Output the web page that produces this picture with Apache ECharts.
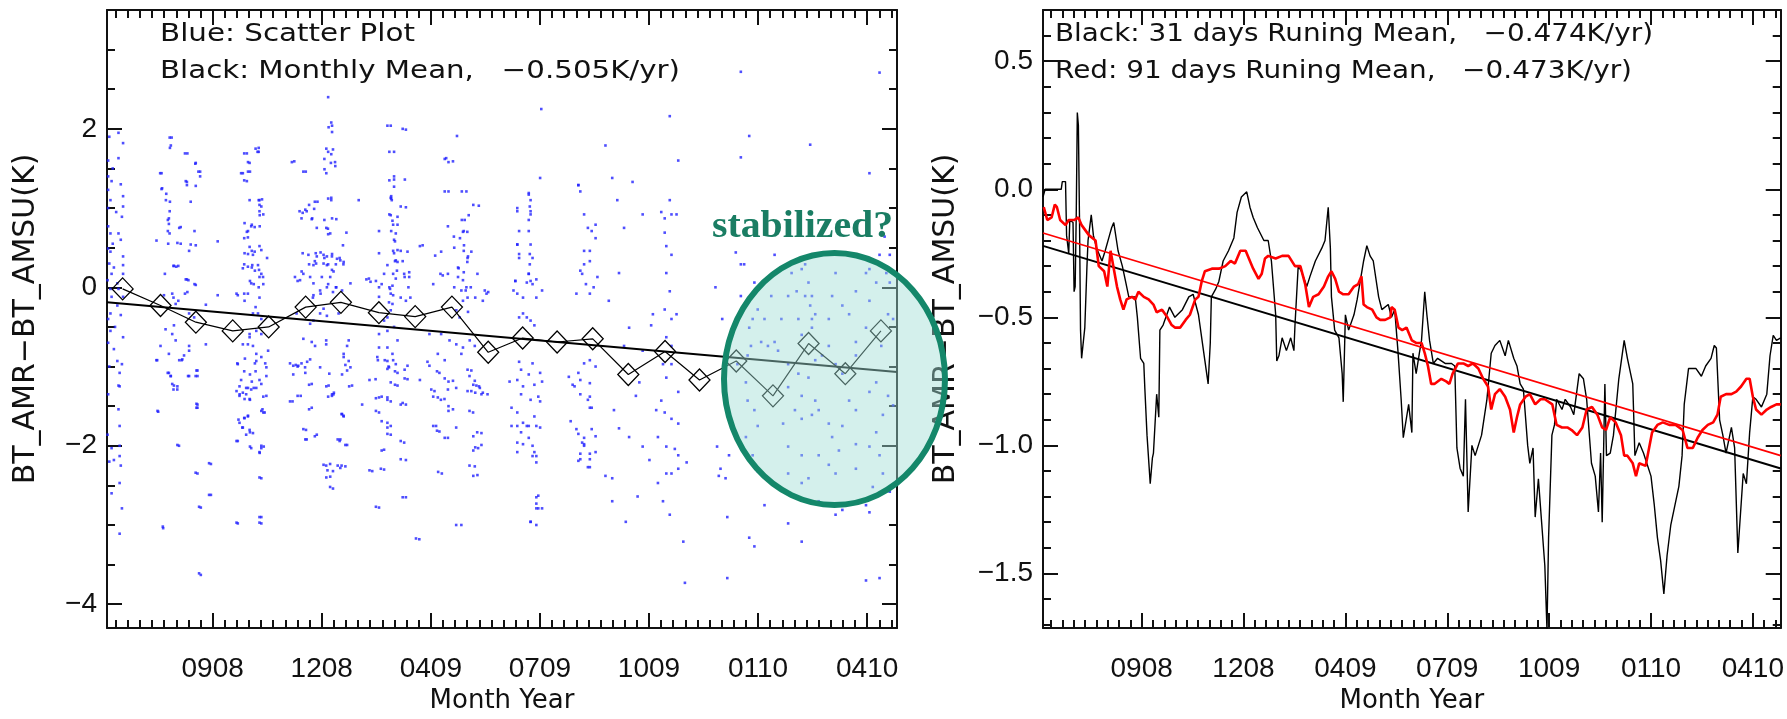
<!DOCTYPE html>
<html><head><meta charset="utf-8">
<script src="https://cdn.jsdelivr.net/npm/echarts@6.0.0/dist/echarts.min.js"></script>
<style>html,body{margin:0;padding:0;background:#fff}#chart{width:1787px;height:719px}</style>
</head><body><div id="chart"></div>
<script>
// ---------------- data ----------------
const xTickLabels = ['0908','1208','0409','0709','1009','0110','0410'];
const xTickDays = [92,187,282,377,472,567,662];
const leftYTicks = [-4,-2,0,2];
const rightYTicks = [-1.5,-1,-0.5,0,0.5];

const monthlyMean = [[13.6,-0.02],[46.6,-0.23],[77.4,-0.44],[109.5,-0.55],[140.8,-0.50],[173,-0.25],[203.7,-0.19],[236.8,-0.32],[268.4,-0.37],[300.4,-0.25],[332,-0.82],[362,-0.64],[392,-0.69],[423,-0.65],[454,-1.10],[486,-0.81],[516,-1.17],[548,-0.93],[580,-1.37],[611,-0.71],[643,-1.09],[674,-0.55]];
const monthlyFit = [[0,-0.19],[688,-1.07]];

const scatterPts = [
[10,1.95],[14,1.82],[10,1.63],[1,1.40],[4,1.34],[1,1.23],[3,1.10],[14,1.15],[14,1.02],[13,0.89],[1,0.77],[3,0.68],[10,0.68],[1,0.49],[3,0.45],[14,0.39],[14,0.28],[4,0.17],[14,0.17],[0.5,0.09],[3,-0.02],[10,-0.02],[4,-0.12],[14,-0.12],[9,-0.23],[3,-0.33],[1,-0.40],[7,-0.50],[3,-0.55],[14,-0.63],[6,-0.78],[9,-0.93],[13,-0.97],[11,-1.08],[10,-1.24],[1,-1.35],[10,-1.54],[11,-1.75],[0.5,-1.86],[4,-2.03],[6,-2.18],[11,-2.13],[11,-2.47],[13,-2.79],[11,-3.11],[2,-2.2],[4,-2.6],[11,-1.25],[11,-2.0],[12,-2.25],[1,1.6],[1,1.0],[2,0.3],[1,-0.7],[2,-1.0],[2,1.9],[5,1.5],[12,1.3],[8,0.95],[5,0.55],[12,0.6],[6,0.25],[9,0.05],[12,-0.35],
[56.3,1.89],[54.8,1.76],[70,1.69],[77.3,1.57],[47.5,1.44],[81.1,1.46],[81.1,1.40],[68.6,1.34],[77.3,1.28],[47.5,1.24],[51.6,1.18],[54.8,1.08],[53.9,0.87],[53.9,0.80],[64.2,0.76],[54.5,0.68],[43.1,0.59],[53.3,0.55],[64.2,0.55],[71.5,0.46],[77.3,0.53],[58.3,0.27],[62.1,0.27],[50.4,0.17],[68.6,0.10],[70.9,0.09],[77.3,0.03],[56.8,-0.08],[70,-0.06],[62.1,-0.17],[59.8,-0.21],[86.1,-0.22],[71.5,-0.33],[58.3,-0.48],[51,-0.53],[75.9,-0.38],[56.8,-0.59],[46.6,-0.74],[59.8,-0.67],[71.5,-0.74],[71.5,-0.80],[67.1,-0.86],[65,-0.92],[43.7,-0.92],[53.9,-0.84],[53.9,-1.08],[55.4,-1.12],[58.3,-1.24],[56.8,-1.22],[61.2,-1.29],[71.5,-1.12],[78.8,-1.05],[78.8,-1.12],[44.6,-1.57],[78.8,-1.48],[78.8,-1.52],[62.7,-2.00],[90.5,-2.23],[78.8,-2.35],[90.5,-2.62],[81.7,-2.78],[48.9,-3.04],[81.7,-3.63],[86.1,-0.72],
[96.4,0.58],[121.8,1.69],[132.1,1.76],[132.1,1.71],[124.2,1.57],[118.3,1.44],[121.8,1.34],[124.2,1.10],[132.1,1.10],[134.4,1.02],[135,1.11],[133,0.91],[119.8,0.81],[121.8,0.70],[125.6,0.77],[128.6,0.76],[133,0.77],[122.7,0.63],[119.8,0.43],[124.2,0.51],[128.6,0.45],[127.1,0.41],[134.4,0.47],[118.3,0.24],[122.7,0.26],[126.5,0.28],[131.5,0.28],[132.4,0.22],[134.4,0.17],[135.9,0.13],[125.6,0.05],[132.1,0.00],[122.7,-0.08],[113.9,-0.10],[119.8,-0.17],[127.1,-0.33],[131.5,-0.33],[134.4,-0.40],[124.2,-0.59],[124.2,-0.63],[130,-0.55],[134.4,-0.59],[122.7,-0.72],[118.3,-0.72],[127.1,-0.74],[130,-0.84],[130,-0.93],[134.4,-0.88],[140.3,-0.80],[138.8,-1.01],[138.8,-1.12],[134.4,-1.22],[130,-1.27],[125.6,-1.29],[121.2,-1.27],[118.3,-1.33],[115.4,-1.25],[113.9,-0.97],[115.4,-1.37],[119.8,-1.41],[124.2,-1.41],[121.2,-1.35],[138.8,-1.37],[134.4,-1.56],[137.3,-1.58],[122.7,-1.63],[119.8,-1.65],[115.4,-1.71],[118.3,-1.77],[124.2,-1.80],[121.2,-1.86],[127.1,-1.84],[113.9,-1.94],[134.4,-2.03],[133,-2.09],[136.5,-2.01],[134.4,-2.41],[125.6,-2.03],[113.9,-2.98],[134.4,-2.90],[134.4,-2.98],[96.4,-0.10],
[163.1,1.59],[173.1,1.46],[189.4,1.49],[193,2.02],[195.3,2.08],[196.8,1.74],[195.3,1.68],[195,1.57],[198.8,1.53],[195.3,1.13],[195.3,1.10],[183.3,1.08],[180.4,0.99],[170.4,0.94],[173.9,0.96],[178.3,0.86],[199.7,0.86],[192.4,0.74],[194.4,0.68],[208.5,0.69],[205.5,0.53],[170.4,0.43],[175.4,0.41],[181.8,0.43],[182.7,0.39],[188.6,0.41],[191.5,0.39],[195.9,0.39],[200.3,0.36],[203.2,0.34],[206.1,0.32],[179.8,0.28],[182.1,0.30],[188.6,0.30],[191.5,0.28],[195.9,0.22],[197.3,0.20],[169.5,0.20],[163.7,0.13],[168.1,0.09],[176.9,0.13],[187.1,0.13],[194.4,0.13],[212,0.05],[179.8,0.05],[185.6,-0.04],[191.5,0.00],[196.8,-0.06],[199.7,0.00],[204.7,-0.04],[179.8,-0.10],[188.6,-0.27],[165.1,-0.33],[185.6,-0.33],[191.5,-0.36],[201.7,-0.33],[179.8,-0.42],[176.9,-0.46],[171,-0.65],[178.3,-0.69],[181.2,-0.74],[190.9,-0.67],[190.9,-0.72],[210.5,-0.67],[209.1,-0.74],[206.1,-0.84],[206.1,-0.88],[162.2,-0.99],[166.6,-0.99],[172.5,-1.01],[176.9,-0.91],[185.6,-1.01],[210.5,-0.93],[212,-1.01],[209.1,-1.05],[162.2,-1.10],[178.3,-1.22],[193,-1.24],[204.7,-1.10],[213.4,-1.24],[195.9,-1.37],[197.3,-1.35],[161.6,-1.44],[168.7,-1.37],[178.3,-1.52],[204.7,-1.60],[206.1,-1.63],[222.2,-1.48],[173.3,-1.80],[173.9,-1.92],[182.7,-1.86],[203.2,-1.92],[209.1,-1.99],[190.9,-2.25],[194.4,-2.39],[196.8,-2.54],[196.8,-2.32],[203.2,-2.28],[207.6,-2.26],
[247.1,2.04],[260.3,1.99],[250,1.71],[250,1.40],[250,1.36],[250,1.27],[259.4,1.36],[247.1,1.13],[248,1.10],[260.3,1.01],[253,0.89],[247.1,0.91],[236.9,0.71],[248.6,0.84],[253,0.79],[251.5,0.68],[250,0.60],[261.7,0.45],[274.9,0.53],[236.9,0.43],[250,0.43],[253,0.47],[244.2,0.28],[251.5,0.34],[253,0.32],[241.3,0.17],[258.8,0.17],[263.2,0.19],[228.1,0.11],[251.5,0.11],[263.2,0.13],[236.9,0.00],[246.5,-0.02],[248.6,0.02],[236.9,-0.12],[247.1,-0.08],[245.6,-0.19],[248.6,-0.21],[260.3,-0.17],[247.1,-0.29],[241.3,-0.42],[244.2,-0.38],[236.9,-0.59],[244.2,-0.55],[250,-0.50],[253,-0.67],[236.9,-0.76],[244.2,-0.76],[248.6,-0.84],[235.4,-0.88],[244.2,-0.93],[251.5,-0.97],[245.6,-1.01],[244.2,-1.03],[253,-1.08],[261.7,-0.99],[233.9,-1.16],[261.7,-1.16],[247.1,-1.20],[253,-1.24],[236.9,-1.39],[244.2,-1.39],[247.1,-1.44],[260.3,-1.48],[236.9,-1.58],[244.2,-1.71],[247.1,-1.75],[247.1,-1.86],[241.3,-2.05],[258.8,-1.96],[260.3,-2.18],[231,-2.32],[241.3,-2.30],[236.9,-2.78],[260.3,-2.65],[272,-3.18],[229.5,0.07],
[304.8,1.91],[295.4,1.63],[301.3,1.59],[297.4,1.21],[313,1.21],[323.8,1.03],[311.5,0.85],[315,0.91],[296.9,0.77],[302.1,0.64],[310,0.70],[313.8,0.70],[310.9,0.53],[317.3,0.45],[291,0.45],[314.4,0.39],[296.9,0.17],[306.2,0.24],[290.4,0.17],[313.8,0.32],[310,0.09],[313,0.00],[316.8,0.00],[322.6,0.17],[308.6,-0.04],[330.5,-0.08],[310,-0.17],[307.1,-0.38],[304.2,-0.29],[314.4,-0.31],[280.8,-0.59],[291,-0.59],[298.3,-0.67],[304.2,-0.72],[310,-0.76],[315.9,-0.67],[320.3,-0.74],[308.6,-0.84],[280.8,-0.99],[288.1,-0.84],[317.3,-1.05],[320.3,-1.18],[321.7,-1.24],[324.7,-1.27],[317.3,-1.31],[326.1,-1.35],[285.2,-1.31],[289.5,-1.08],[301.3,-1.18],[296.9,-1.29],[288.1,-1.39],[293.9,-1.41],[301.3,-1.54],[318.8,-1.58],[286.6,-1.75],[289.5,-1.82],[296.9,-1.90],[326.1,-1.84],[323.2,-2.03],[326.1,-1.99],[320.3,-2.26],[322.6,-2.37],[291.6,-2.35],[308.6,-3.00],[331.4,-1.35],[332,-0.06],
[357.3,0.96],[358.9,0.71],[367.3,1.17],[368.2,1.02],[368.9,0.96],[367.3,0.85],[368.2,0.42],[368.2,0.29],[367.3,0.17],[365.6,0.06],[370.6,0.04],[373.9,0.10],[357.3,0.54],[358.9,0.42],[355.6,0.08],[354,-0.04],[358.9,-0.38],[362.3,-0.33],[365.6,-0.38],[368.9,-0.42],[372.2,-0.48],[378.2,2.25],[377.2,1.38],[410.5,1.29],[415.5,0.46],[420.5,0.33],[425.5,0.79],[413.8,0.17],[427.1,0.13],[420.5,-0.08],[408.8,-0.08],
[357.3,-1.17],[350.6,-1.19],[362.3,-1.25],[372.2,-1.23],[375.6,-1.38],[377.2,-1.44],[352.3,-1.52],[357.3,-1.58],[362.3,-1.71],[357.3,-1.75],[365.6,-1.75],[373.9,-1.75],[377.2,-1.77],[367.3,-1.90],[362.3,-1.98],[357.3,-2.08],[370.6,-2.13],[373.9,-2.13],[373.9,-2.21],[373.9,-2.65],[373.9,-2.73],[375.6,-2.79],[378.9,-2.79],[368.9,-2.96],[373.9,-3.00],[402.2,-1.13],[403.8,-1.69],[407.2,-1.25],[408.8,-1.79],[410.5,-1.85],[413.8,-1.96],[415.5,-2.00],[412.2,-2.10],[410.5,-2.19],[420.5,-2.17],[420.5,-2.27],[425.5,-2.08],[420.5,-1.38],[420.5,-1.52],[422.1,-1.79],[425.5,-1.88],
[552,2.72],[490.1,2.16],[497.5,1.60],[559.3,1.91],[612.4,1.80],[672.8,2.71],[664,1.44],[552,1.64],[434.1,1.79],[440,1.38],[444.4,1.10],[450.3,0.75],[457.7,1.33],[466.5,0.92],[482.7,0.95],[485.7,0.87],[490.1,1.10],[491.6,0.92],[496,0.92],[485.7,0.69],[487.1,0.52],[491.6,0.41],[487.1,0.18],[490.1,-0.05],[485.7,-0.28],[491.6,-0.40],[496,-0.34],[487.1,-0.63],[491.6,-0.74],[484.2,-0.97],[491.6,-0.97],[487.1,-1.14],[497.5,-1.32],[482.7,-1.43],[478.3,-1.55],[485.7,-1.58],[491.6,-1.66],[497.5,-1.72],[479.8,-1.89],[487.1,-2.01],[494.5,-2.04],[497.5,-2.12],[487.1,-2.35],[491.6,-2.35],[497.5,-2.29],[504.8,-2.21],[479.8,-2.47],[484.2,-2.70],[490.1,-2.87],[501.9,-3.21],[503.3,-3.73],[451.8,-2.96],[440,-2.70],[434.1,-2.38],[445.9,0.18],[437,-0.17],[450.3,-0.74],[454.7,-0.51],[466.5,-0.80],[473.9,-0.48],[475.4,-0.34],[463.6,-1.20],[460.6,-1.37],[441.5,-1.55],[445.9,-1.78],[454.7,-1.89],[466.5,-2.01],[472.4,-2.18],[440,-2.41],[462.1,-2.64],
[529.9,0.00],[535.8,-0.40],[540.2,-0.74],[552,0.29],[547.6,0.44],[554.9,0.29],[563.8,0.06],[562.3,-0.40],[559.3,-0.51],[556.4,-1.20],[557.9,-1.43],[563.8,-1.55],[566.7,-1.75],[556.4,-1.89],[562.3,-2.12],[566.7,-2.32],[541.7,-2.12],[538.7,-2.41],[540.2,-2.90],[540.2,-3.67],[563.8,-3.27],[559.3,-3.16],[572.6,-2.75],[531.3,-2.01],[534.3,-2.29],[532.8,-2.38],[569.7,-0.69],[575.6,-0.74],[584.4,-0.80],[593.2,-0.11],[600.6,-0.05],[608,-0.11],[612.4,-0.23],[613.9,-0.40],[613.9,-0.51],[605,-0.60],[616.8,-0.92],[622.7,-0.86],[628.6,-0.74],[634.5,-0.97],[640.4,-1.09],[652.2,-0.69],[652.2,-0.86],[661,-0.51],[664,-0.17],[669.9,0.06],[672.8,0.41],[678.7,0.18],[680.2,-0.34],[684.6,-0.40],[674.3,-0.74],[669.9,-1.20],[680.2,-1.37],[684.6,-1.49],[593.2,-0.97],[602.1,-1.09],[610.9,-1.14],[593.2,-1.26],[605,-1.37],[616.8,-1.43],[619.8,-1.55],[599.1,-1.55],[588.8,-1.72],[605,-1.66],[613.9,-1.61],[628.6,-1.72],[640.4,-1.75],[652.2,-1.55],[646.3,-1.43],[664,-1.32],[675.7,-1.61],[669.9,-1.83],[593.2,-2.01],[605,-2.12],[619.8,-2.12],[631.5,-1.89],[637.4,-2.06],[652.2,-1.98],[664,-2.01],[672.8,-2.12],[675.7,-2.35],[666.9,-2.52],[593.2,-2.35],[605,-2.47],[610.9,-2.41],[628.6,-2.24],[634.5,-2.35],[652.2,-2.29],[661,-2.75],[664,-2.84],[593.2,-2.98],[619.8,-2.70],[634.5,-2.87],[640.4,-2.81],[605,-3.21],[681.7,-2.58],[672.8,-3.67],[661,-3.70],
[605,0.23],[610.9,0.06],[613.9,-0.11],[616.8,-0.34],[631.5,-0.11],[640.4,-0.23],[646.3,-0.34],[652.2,-0.05],[661,0.18],[634.5,0.18],[619.8,0.41],[608,0.29],[596.2,0.18],[587.3,-0.40],[578.5,-0.11],[572.6,-0.40],[566.7,-0.28],[581.4,0.41],[581.4,-0.69],[560.8,-0.74],[557.9,-0.86],[549,-0.97],[552,-0.11],[602.1,-0.40],[628.6,-0.40],[681.7,0.06],[681.7,0.41],[677.2,0.64],[664,0.23],
[43,-0.92],[62.9,-0.92],[65.6,-0.91],[52.9,-1.08],[55.6,-1.12],[57.9,-1.29],[61.3,-1.25],[70.6,-1.12],[77.9,-1.05],[77.2,-1.12],[44,-1.56],[61.3,-1.99],[77.9,-1.47],[77.9,-1.52],[77.2,-2.34],[80.2,-2.77],[88.9,-2.22],[88.9,-2.62],[48.6,-3.02],[80.2,-3.61],
[113.5,-0.96],[119.5,-1.06],[124.5,-1.10],[128.8,-0.96],[137.8,-0.96],[116.8,-1.17],[126.1,-1.19],[132.8,-1.17],[112.8,-1.31],[115.5,-1.35],[122.8,-1.27],[127.8,-1.27],[136.1,-1.38],[124.5,-1.42],[114.5,-1.67],[119.5,-1.65],[122.8,-1.62],[117.8,-1.77],[124.5,-1.83],[112.8,-1.94],[124.5,-2.01],[132.8,-2.08],[134.4,-2.00],[132.8,-2.40],[112.8,-2.97],[132.8,-2.90],[132.8,-2.97],[135.4,-1.54],[136.1,-1.58],[129.4,-1.06],[120.1,-0.90],
[159.4,-0.96],[164.4,-0.98],[169.4,-0.96],[174.3,-0.94],[172.7,-1.08],[166,-1.00],[176,-1.23],[191,-1.25],[193.6,-1.09],[207.6,-0.98],[210.9,-1.25],[196,-1.35],[197.6,-1.33],[204.3,-1.60],[205.9,-1.62],[202.6,-1.94],[207.6,-1.99],[200.9,-1.92],[192.6,-1.38],[159.4,-1.44],[171,-1.79],[172.7,-1.92],[181,-1.88],[188.6,-2.24],[192,-2.31],[191,-2.40],[194.3,-2.52],[200.9,-2.25],[204.3,-2.25],[194.3,-2.23],[176,-1.54],[166,-1.37],
[228.6,-1.17],[234.2,-1.40],[239.2,-1.38],[244.2,-1.42],[234.2,-1.56],[239.2,-1.69],[244.2,-1.77],[244.2,-1.85],[239.2,-2.06],[238.5,-2.29],[228.6,-2.31],[234.2,-2.77],[257.5,-1.46],[255.8,-1.48],[255.8,-1.94],[255.8,-2.17],[257.5,-2.65],[250.8,-1.23],[259.2,-1.04],[259.2,-1.15],[250.8,-1.06],[245.2,-1.00],[241.9,-0.92],[235.9,-0.92],[249.2,-0.92],
[272.5,-1.17],[282.4,-1.29],[284.1,-1.38],[287.4,-1.06],[294.1,-1.15],[297.4,-1.19],[304.1,-1.27],[290.8,-1.42],[297.4,-1.50],[297.4,-1.56],[284.1,-1.75],[287.4,-1.81],[294.1,-1.90],[304.1,-1.77],[288.4,-2.33],[304.1,-3.00],[269.1,-3.17],[314,-1.04],[315.7,-1.12],[319,-1.23],[324,-1.25],[314,-1.31],[320.7,-1.33],[327.3,-1.33],[315.7,-1.56],[319,-1.88],[322.4,-1.83],[315.7,-2.25],[319,-2.38],[319,-2.06],[320.7,-2.02],[279.1,-0.94],[294.1,-0.92],
[360.6,-1.04],[370.6,-0.96],[367.3,-1.10],[360.6,-1.35],[368.9,-1.42],[377.2,-1.08],[378.9,-1.19],[358.9,-0.94],[372.2,-1.63],[372.2,-2.08],[370.6,-2.00],[367.3,-1.75],[360.6,-1.83],[352.3,-1.75],[357.3,-1.96],[375.6,-2.63],[373.9,-2.79],[368.9,-2.96],
[405.5,-1.23],[410.5,-1.08],[412.2,-1.17],[415.5,-0.96],[420.5,-0.92],[425.5,-1.00],[420.5,-1.21],[412.2,-1.35],[418.8,-1.42],[422.1,-1.52],[415.5,-1.90],[415.5,-1.98],[420.5,-2.10],[412.2,-2.17],[418.8,-2.27],
[54.6,1.89],[55.6,1.79],[46.3,1.44],[48,1.25],[51.3,1.10],[54.6,0.96],[53,0.85],[53,0.71],[61.3,0.56],[67.9,1.69],[69.6,1.33],[69.6,1.29],[72.9,1.08],[76.2,0.71],[79.6,1.46],[76.9,1.56],[72.9,0.54],[62.9,0.75],[57.9,0.27],[60.3,0.26],[69.6,0.10],[76.2,0.04],[67.9,-0.08],[57.9,-0.13],[49.6,-0.10],
[119.5,1.69],[122.8,1.58],[122.8,1.46],[116.8,1.44],[119.5,1.35],[124.5,1.46],[129.4,1.75],[131.1,1.71],[132.8,1.10],[132.8,1.04],[132.8,0.96],[136.1,0.92],[126.1,0.79],[122.8,0.71],[119.5,0.62],[126.1,0.46],[122.8,0.42],[132.8,0.52],[119.5,0.29],[126.1,0.25],[128.8,0.21],[132.8,0.13],[124.5,0.08],[127.8,0.04],[119.5,-0.08],[112.8,-0.08],[136.1,0.04],[139.4,0.37],[132.8,-0.13],[129.4,-0.25],
[161,1.58],[171,1.46],[167.7,0.96],[169.4,0.87],[172.7,0.98],[176,1.04],[181,1.08],[178.7,0.87],[182.7,0.75],[189.3,0.85],[196,0.87],[191,0.75],[192.6,0.67],[192.6,1.12],[191,1.44],[189.3,1.62],[192.6,1.71],[191,1.75],[198.6,1.58],[196,2.04],[196,1.96],[192.6,2.40],[196,0.42],[202.6,0.37],[205.9,0.29],[199.3,0.29],[192.6,0.29],[189.3,0.37],[186,0.44],[181,0.33],[176,0.29],[171,0.17],[166,0.08],[192.6,0.04],[199.3,0.00],[186,-0.08],[179.3,-0.13],
[219.2,1.10],[225.9,0.10],[234.2,0.08],[239.2,0.04],[245.9,0.00],[249.2,0.17],[252.5,0.21],[257.5,0.33],[259.2,0.13],[262.5,0.00],[264.2,-0.13],[255.8,-0.13],[249.2,-0.10],[245.9,1.35],[247.5,1.12],[245.9,0.92],[249.2,0.79],[247.5,0.71],[250.8,0.58],[255.8,0.46],[249.2,0.46],[250.8,0.33],[245.9,1.71],[244.2,2.04],[257.5,2.00],[247.5,1.15],[255.8,1.02],
[294.1,1.62],[297.4,1.58],[294.1,1.21],[309,1.21],[309,0.85],[310.7,0.71],[307.4,0.62],[302.4,0.50],[310.7,0.46],[314,0.37],[319,1.04],[305.7,0.25],[310.7,0.19],[305.7,0.13],[302.4,0.00],[312.4,-0.04],[314,-0.13],[320.7,-0.13],[329,-0.04],[327.3,-0.17],[285.8,0.40],[292.4,0.15],[284.1,0.04],[272.5,0.52],
[367.3,1.19],[368.9,1.10],[368.9,0.92],[357.3,1.00],[367.3,0.71],[368.9,0.54],[370.6,0.37],[367.3,0.17],[368.9,0.08],[357.3,0.54],[358.9,0.37],[355.6,0.08],[357.3,-0.08],[362.3,-0.13],[373.9,-0.13],[378.9,-0.04],
[410.5,1.29],[412.2,1.21],[415.5,0.92],[418.8,0.75],[422.1,0.71],[425.5,0.62],[420.5,0.46],[415.5,0.29],[412.2,0.21],[417.1,0.04],[423.8,0.00]
];

const run31 = [[0,-0.03],[2,0.00],[17,0.00],[18,0.03],[21,0.03],[22,-0.18],[24,-0.25],[25,-0.12],[28,-0.13],[29,-0.40],[30,-0.38],[31,-0.10],[32,0.30],[33,0.25],[34,-0.10],[35,-0.55],[36,-0.66],[37,-0.62],[39,-0.54],[41,-0.30],[42,-0.20],[45,-0.10],[47,-0.18],[50,-0.23],[55,-0.28],[58,-0.24],[62,-0.18],[64,-0.15],[66,-0.13],[70,-0.24],[74,-0.30],[77,-0.36],[80,-0.42],[86,-0.42],[88,-0.50],[91,-0.66],[94,-0.68],[95,-0.78],[97,-0.96],[100,-1.15],[102,-1.05],[103,-1.03],[106,-0.80],[108,-0.89],[109,-0.55],[112,-0.53],[118,-0.46],[123,-0.50],[130,-0.47],[136,-0.42],[140,-0.41],[145,-0.49],[148,-0.58],[151,-0.67],[154,-0.76],[156,-0.60],[157,-0.42],[161,-0.39],[164,-0.36],[168,-0.28],[173,-0.24],[178,-0.19],[181,-0.09],[185,-0.03],[190,-0.01],[193,-0.07],[196,-0.11],[200,-0.15],[206,-0.20],[210,-0.20],[213,-0.28],[217,-0.49],[218,-0.67],[220,-0.65],[223,-0.58],[227,-0.63],[231,-0.58],[234,-0.63],[235,-0.53],[238,-0.30],[241,-0.32],[246,-0.38],[249,-0.34],[254,-0.28],[260,-0.23],[263,-0.20],[266,-0.07],[268,-0.23],[269,-0.42],[272,-0.55],[276,-0.58],[279,-0.72],[280,-0.83],[282,-0.49],[285,-0.55],[290,-0.49],[293,-0.43],[299,-0.28],[302,-0.22],[305,-0.26],[308,-0.28],[313,-0.42],[316,-0.47],[322,-0.45],[325,-0.50],[328,-0.47],[331,-0.63],[334,-0.82],[336,-0.97],[341,-0.84],[344,-0.95],[345,-0.64],[348,-0.72],[351,-0.64],[353,-0.59],[356,-0.40],[358,-0.49],[360.5,-0.59],[364,-0.68],[368,-0.66],[375,-0.68],[381,-0.68],[384,-0.69],[386,-1.01],[389,-1.09],[392,-1.12],[394,-0.82],[396.5,-1.26],[400,-1.00],[403,-1.04],[409,-0.96],[414,-0.82],[418,-0.64],[421.5,-0.61],[426,-0.59],[431,-0.65],[434,-0.59],[439,-0.66],[442,-0.69],[445,-0.76],[448,-0.78],[452,-1.00],[454,-1.07],[457,-1.01],[459,-1.28],[462,-1.13],[465,-1.30],[468,-1.47],[470,-1.72],[471.5,-1.36],[474.6,-0.96],[477,-0.92],[479,-0.82],[484,-0.86],[487,-0.82],[492,-0.85],[495,-0.88],[500,-0.72],[504,-0.74],[507,-0.82],[511.5,-1.07],[515,-1.12],[518,-1.26],[520,-1.03],[521.5,-1.30],[524,-0.76],[525.5,-1.04],[529,-1.03],[532,-0.96],[537,-0.74],[542,-0.59],[545,-0.66],[550,-0.76],[552,-1.04],[556,-0.99],[560,-1.03],[567,-1.12],[570,-1.23],[573,-1.36],[576,-1.45],[579,-1.58],[582,-1.43],[585.5,-1.31],[589,-1.24],[593,-1.16],[596,-1.04],[598,-0.84],[602,-0.70],[609,-0.70],[614,-0.73],[618,-0.69],[623,-0.66],[626,-0.61],[628,-0.62],[631,-0.90],[634,-0.96],[637,-1.03],[642,-0.93],[645,-1.01],[648,-1.42],[653,-1.11],[656,-1.15],[659,-0.95],[662,-0.81],[665,-0.82],[670,-0.85],[675,-0.80],[678,-0.65],[681,-0.57],[684,-0.59],[688,-0.58]];
const fit31 = [[0,-0.221],[688,-1.09]];

const run91 = [[0.7,-0.07],[4,-0.12],[8,-0.11],[11,-0.06],[13,-0.07],[16,-0.12],[21,-0.14],[24,-0.12],[29,-0.12],[33,-0.11],[36,-0.14],[43,-0.18],[49,-0.20],[52,-0.30],[57,-0.32],[60,-0.38],[63,-0.24],[66,-0.31],[69,-0.38],[72,-0.43],[75,-0.47],[78,-0.43],[83,-0.42],[86,-0.43],[89,-0.40],[94,-0.42],[98.5,-0.43],[103,-0.45],[106,-0.48],[111,-0.47],[116,-0.50],[120,-0.53],[123,-0.54],[128,-0.54],[133,-0.51],[137,-0.49],[142,-0.43],[145,-0.42],[148,-0.36],[151,-0.32],[157.5,-0.31],[164,-0.31],[170,-0.30],[175,-0.28],[179,-0.29],[184,-0.24],[189,-0.24],[192,-0.27],[196,-0.31],[201,-0.35],[204,-0.33],[207,-0.27],[210,-0.26],[217,-0.27],[223,-0.26],[229,-0.26],[235,-0.30],[240,-0.30],[244.5,-0.37],[248,-0.46],[252,-0.42],[257,-0.41],[262,-0.38],[266,-0.34],[269,-0.32],[272.5,-0.35],[276,-0.40],[280,-0.41],[285,-0.41],[290,-0.38],[294,-0.37],[297,-0.34],[299,-0.45],[302,-0.46],[307,-0.47],[311,-0.50],[314.5,-0.51],[319,-0.51],[324,-0.50],[325,-0.46],[328,-0.47],[331.5,-0.54],[335,-0.55],[339,-0.54],[344,-0.59],[348,-0.60],[353,-0.60],[356,-0.64],[359,-0.69],[362,-0.76],[365,-0.76],[371.5,-0.74],[376,-0.75],[379,-0.76],[382,-0.72],[387,-0.68],[392,-0.68],[396.5,-0.69],[401,-0.68],[406,-0.70],[410.5,-0.74],[415,-0.77],[418,-0.86],[421.5,-0.80],[426,-0.78],[431,-0.81],[435.5,-0.86],[439,-0.95],[442,-0.89],[445,-0.84],[450,-0.81],[454,-0.80],[459,-0.84],[464,-0.82],[468,-0.82],[475,-0.84],[479,-0.92],[484,-0.93],[489,-0.93],[493,-0.94],[498,-0.96],[503,-0.93],[507,-0.86],[512,-0.85],[517,-0.88],[521.5,-0.93],[525,-0.94],[529,-0.89],[534,-0.91],[539,-0.96],[542,-1.04],[545,-1.04],[550,-1.07],[553,-1.12],[556,-1.07],[562,-1.08],[568,-0.95],[573,-0.92],[578,-0.91],[584,-0.92],[590,-0.92],[596.5,-0.94],[601,-1.01],[606,-1.01],[610.5,-0.97],[615,-0.94],[620,-0.92],[625,-0.91],[629,-0.88],[632,-0.81],[637,-0.80],[642,-0.80],[646.5,-0.79],[651,-0.77],[656,-0.74],[659,-0.74],[662,-0.81],[665,-0.86],[670,-0.88],[675,-0.86],[679,-0.85],[684,-0.84],[688,-0.84]];
const fit91 = [[0,-0.171],[688,-1.04]];

// ---------------- layout ----------------
const X_MIN = 0, X_MAX = 688;
const FONT = 'Liberation Sans';
const NFONT = 'DejaVu Sans';
const AX = '#111';
const xMinor = [];
for (let k = -1; k < xTickDays.length; k++) {
  for (let j = 1; j < 9; j++) {
    const v = xTickDays[0] + 95 * k + j * 95 / 9;
    if (v > X_MIN + 0.5 && v < X_MAX - 0.5) xMinor.push(v);
  }
}
function range(a, b, s, skip) { const r = []; for (let v = a; v <= b + 1e-9; v += s) { const q = Math.round(v * 1000) / 1000; if (!skip.some(t => Math.abs(t - q) < 1e-6)) r.push(q); } return r; }
const leftYMinor = range(-4, 3.5, 0.5, leftYTicks);
const rightYMinor = range(-1.7, 0.7, 0.1, rightYTicks);
const minus = v => (v < 0 ? '\u2212' : '') + Math.abs(v);
const minus1 = v => (v < 0 ? '\u2212' : '') + Math.abs(v).toFixed(1);

function buildAxes(g, yMin, yMax, yMajor, yMinorVals, yFmt, yNameGap) {
  const line = { show: true, onZero: false, lineStyle: { color: AX, width: 2 } };
  const noLine = { show: false, onZero: false };
  const tickStyle = { color: AX, width: 2 };
  const bx = { gridIndex: g, type: 'value', min: X_MIN, max: X_MAX, splitLine: { show: false } };
  const by = { gridIndex: g, type: 'value', min: yMin, max: yMax, splitLine: { show: false } };
  const xs = [
    Object.assign({}, bx, { position: 'bottom', axisLine: line,
      axisTick: { show: true, inside: true, length: 15, lineStyle: tickStyle, customValues: xTickDays },
      axisLabel: { show: true, customValues: xTickDays, formatter: v => xTickLabels[xTickDays.indexOf(v)] || '', color: AX, fontSize: 28, fontFamily: FONT, margin: 27 },
      name: 'Month Year', nameLocation: 'middle', nameGap: 60, nameTextStyle: { color: AX, fontSize: 26, fontFamily: NFONT } }),
    Object.assign({}, bx, { position: 'bottom', axisLine: noLine,
      axisTick: { show: true, inside: true, length: 8, lineStyle: tickStyle, customValues: xMinor }, axisLabel: { show: false } }),
    Object.assign({}, bx, { position: 'top', axisLine: line,
      axisTick: { show: true, inside: true, length: 15, lineStyle: tickStyle, customValues: xTickDays }, axisLabel: { show: false } }),
    Object.assign({}, bx, { position: 'top', axisLine: noLine,
      axisTick: { show: true, inside: true, length: 8, lineStyle: tickStyle, customValues: xMinor }, axisLabel: { show: false } })
  ];
  const ys = [
    Object.assign({}, by, { position: 'left', axisLine: line,
      axisTick: { show: true, inside: true, length: 15, lineStyle: tickStyle, customValues: yMajor },
      axisLabel: { show: true, customValues: yMajor, formatter: yFmt, color: AX, fontSize: 28, fontFamily: FONT, margin: 10 },
      name: 'BT_AMR\u2212BT_AMSU(K)', nameLocation: 'middle', nameGap: yNameGap, nameTextStyle: { color: AX, fontSize: 30, fontFamily: NFONT } }),
    Object.assign({}, by, { position: 'left', axisLine: noLine,
      axisTick: { show: true, inside: true, length: 8, lineStyle: tickStyle, customValues: yMinorVals }, axisLabel: { show: false } }),
    Object.assign({}, by, { position: 'right', axisLine: line,
      axisTick: { show: true, inside: true, length: 15, lineStyle: tickStyle, customValues: yMajor }, axisLabel: { show: false } }),
    Object.assign({}, by, { position: 'right', axisLine: noLine,
      axisTick: { show: true, inside: true, length: 8, lineStyle: tickStyle, customValues: yMinorVals }, axisLabel: { show: false } })
  ];
  return { xs, ys };
}
const A = buildAxes(0, -4.3, 3.5, leftYTicks, leftYMinor, minus, 66);
const B = buildAxes(1, -1.713, 0.70, rightYTicks, rightYMinor, minus1, 82);

const cv = document.createElement('canvas').getContext('2d');
function fitText(str, x, baseline, width, size, family, weight, color) {
  const font = (weight || 'normal') + ' ' + size + 'px "' + family + '"';
  cv.font = font;
  const w = cv.measureText(str).width;
  return { type: 'text', x: x, y: baseline, scaleX: width / w, z: 100,
    style: { text: str, font: font, fill: color || AX, textAlign: 'left', textVerticalAlign: 'bottom' } };
}

const chart = echarts.init(document.getElementById('chart'), null, { renderer: 'canvas' });
chart.setOption({
  backgroundColor: '#fff',
  animation: false,
  grid: [
    { left: 107, top: 10, width: 790, height: 624 },
    { left: 1043, top: 10, width: 739, height: 623 }
  ],
  xAxis: A.xs.concat(B.xs),
  yAxis: A.ys.concat(B.ys),
  series: [
    { type: 'scatter', xAxisIndex: 0, yAxisIndex: 0, data: scatterPts, symbol: 'rect', symbolSize: 2.6,
      itemStyle: { color: '#2222ff' }, silent: true, z: 1, large: false },
    { type: 'line', xAxisIndex: 0, yAxisIndex: 0, data: monthlyFit, symbol: 'none',
      lineStyle: { color: '#000', width: 2 }, silent: true, z: 3 },
    { type: 'line', xAxisIndex: 0, yAxisIndex: 0, data: monthlyMean, symbol: 'diamond', symbolSize: [21, 22],
      itemStyle: { color: 'rgba(0,0,0,0)', borderColor: '#000', borderWidth: 1.3 },
      lineStyle: { color: '#000', width: 1.2 }, silent: true, z: 4 },
    { type: 'line', xAxisIndex: 4, yAxisIndex: 4, data: run31, symbol: 'none',
      lineStyle: { color: '#000', width: 1.4 }, silent: true, z: 2 },
    { type: 'line', xAxisIndex: 4, yAxisIndex: 4, data: fit31, symbol: 'none',
      lineStyle: { color: '#000', width: 2 }, silent: true, z: 3 },
    { type: 'line', xAxisIndex: 4, yAxisIndex: 4, data: run91, symbol: 'none',
      lineStyle: { color: '#ff0000', width: 2.6 }, silent: true, z: 4 },
    { type: 'line', xAxisIndex: 4, yAxisIndex: 4, data: fit91, symbol: 'none',
      lineStyle: { color: '#ff0000', width: 1.6 }, silent: true, z: 5 }
  ],
  graphic: [
    fitText('Blue: Scatter Plot', 160, 47, 255, 25, NFONT),
    fitText('Black: Monthly Mean,   \u22120.505K/yr)', 160, 84, 520, 25, NFONT),
    fitText('Black: 31 days Runing Mean,   \u22120.474K/yr)', 1055, 47, 598, 25, NFONT),
    fitText('Red: 91 days Runing Mean,   \u22120.473K/yr)', 1055, 84, 577, 25, NFONT),
    { type: 'ellipse', z: 50, shape: { cx: 834.5, cy: 379, rx: 110.5, ry: 126 },
      style: { fill: 'rgba(160,222,212,0.45)', stroke: '#14876a', lineWidth: 6 } },
    fitText('stabilized?', 712, 246, 181, 38, 'Liberation Serif', 'bold', '#1a7d63')
  ]
});
</script></body></html>
